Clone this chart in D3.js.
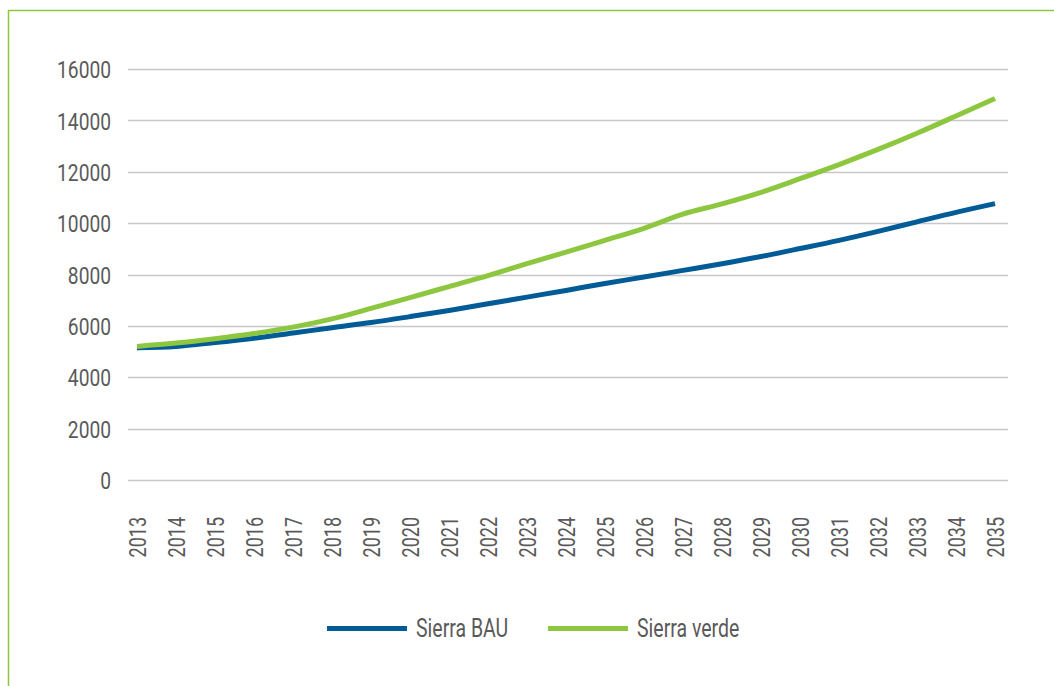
<!DOCTYPE html>
<html><head><meta charset="utf-8">
<script src="https://cdn.jsdelivr.net/npm/d3@7"></script>
<style>
body{margin:0;background:#fff;}
svg text{font-family:Roboto,"DejaVu Sans",sans-serif;font-weight:400;fill:#5a5a5a;}
</style></head><body>
<svg id="c" width="1054" height="686"></svg>
<script>
const years = ["2013","2014","2015","2016","2017","2018","2019","2020","2021","2022","2023","2024","2025","2026","2027","2028","2029","2030","2031","2032","2033","2034","2035"];
const sierraBAU = [5150,5200,5350,5520,5720,5930,6130,6360,6600,6860,7120,7380,7650,7900,8160,8420,8700,9010,9330,9680,10050,10420,10760];
const sierraVerde = [5200,5330,5500,5700,5950,6270,6680,7100,7530,7960,8420,8870,9330,9800,10350,10750,11200,11730,12280,12870,13500,14170,14850];
const yTicks = [0,2000,4000,6000,8000,10000,12000,14000,16000];
const seriesNames = ["Sierra BAU","Sierra verde"];
const colors = ["#005b96","#8dc63f"];

const svg = d3.select("#c");
// frame
svg.append("path").attr("d","M8.5,686 L8.5,10.5 L1054,10.5").attr("fill","none").attr("stroke","#8dc63f").attr("stroke-width",1.5);

const x = d3.scalePoint().domain(years).range([137,995]);
const y = d3.scaleLinear().domain([0,16000]).range([480,69]);

// gridlines
svg.append("g").selectAll("line").data(yTicks).join("line")
  .attr("x1",128).attr("x2",1008)
  .attr("y1",d=>Math.round(y(d))+0.5).attr("y2",d=>Math.round(y(d))+0.5)
  .attr("stroke","#c8c8c8").attr("stroke-width",1.3);

// y labels
const ya = d3.axisLeft(y).tickValues(yTicks).tickSize(0).tickPadding(0).tickFormat(d=>String(d));
const gy = svg.append("g").attr("transform","translate(111,0)").call(ya);
gy.select(".domain").remove();
gy.selectAll("text").attr("font-size",24).attr("font-family",null)
  .attr("x",0).attr("dy","0.36em").attr("transform","scale(0.8,1)");

// x labels
const xa = d3.axisBottom(x).tickSize(0).tickPadding(0);
const gx = svg.append("g").attr("transform","translate(0,517)").call(xa);
gx.select(".domain").remove();
gx.selectAll("text").attr("font-size",24).attr("font-family",null)
  .attr("transform","rotate(-90) scale(0.75,1)").attr("text-anchor","end")
  .attr("x",0).attr("y",0).attr("dy","0.36em");

const line = d3.line().x((d,i)=>x(years[i])).y(d=>y(d)).curve(d3.curveMonotoneX);
[sierraBAU,sierraVerde].forEach((s,k)=>{
  svg.append("path").datum(s).attr("d",line).attr("fill","none")
    .attr("stroke",colors[k]).attr("stroke-width",5);
});

// legend
const lg = svg.append("g");
const lx = [327,548];
seriesNames.forEach((n,k)=>{
  lg.append("line").attr("x1",lx[k]).attr("x2",lx[k]+80).attr("y1",628.5).attr("y2",628.5)
    .attr("stroke",colors[k]).attr("stroke-width",5);
  lg.append("text").attr("transform",`translate(${lx[k]+89},628) scale(0.78,1)`)
    .attr("dy","0.36em").attr("font-size",25).text(n);
});
</script>
</body></html>
